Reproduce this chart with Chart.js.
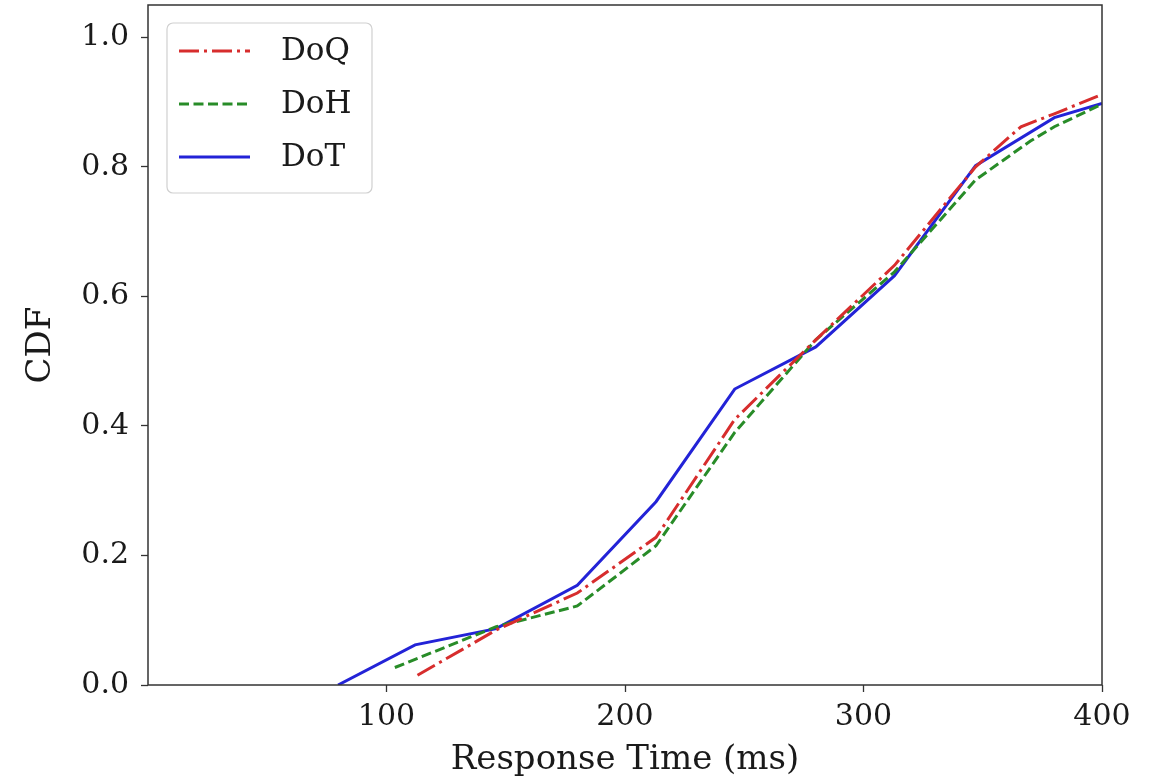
<!DOCTYPE html>
<html>
<head>
<meta charset="utf-8">
<script src="https://cdn.jsdelivr.net/npm/chart.js@4.4.1/dist/chart.umd.min.js"></script>
<style>
  html, body { margin: 0; padding: 0; background: #ffffff; }
  #wrap { width: 1160px; height: 783px; position: relative; }
</style>
</head>
<body>
<div id="wrap"><canvas id="c" width="1160" height="783"></canvas></div>
<script>
// ---- data ----
const seriesNames = ['DoQ', 'DoH', 'DoT'];

const doqX = [113, 146, 180, 213, 246, 280, 313, 347, 366, 380, 400];
const doqY = [0.015, 0.085, 0.142, 0.228, 0.41, 0.533, 0.648, 0.80, 0.862, 0.882, 0.912];

const dohX = [103.5, 146, 180, 213, 246, 280, 313, 347, 370, 380, 400];
const dohY = [0.027, 0.09, 0.122, 0.215, 0.39, 0.533, 0.638, 0.78, 0.84, 0.862, 0.897];

const dotX = [79.7, 112, 146, 180, 213, 246, 280, 313, 347, 380, 400];
const dotY = [0, 0.062, 0.087, 0.154, 0.283, 0.457, 0.522, 0.632, 0.802, 0.876, 0.898];

const xTicks = [100, 200, 300, 400];
const yTicks = [0.0, 0.2, 0.4, 0.6, 0.8, 1.0];

const xTitle = 'Response Time (ms)';
const yTitle = 'CDF';

// ---- helpers ----
function pts(xs, ys) { return xs.map((x, i) => ({ x: x, y: ys[i] })); }

const FONT = "'DejaVu Serif', serif";
const TXT = '#1a1a1a';
const AXIS = '#333333';

const frameAndLegend = {
  id: 'frameAndLegend',
  afterDatasetsDraw(chart) {
    const { ctx, chartArea: a } = chart;
    ctx.save();
    ctx.strokeStyle = AXIS;
    ctx.lineWidth = 1.5;
    ctx.strokeRect(a.left, a.top, a.right - a.left, a.bottom - a.top);

    const bx = 167, by = 23, bw = 205, bh = 170;
    ctx.beginPath();
    ctx.roundRect(bx, by, bw, bh, 6);
    ctx.fillStyle = 'rgba(255,255,255,0.85)';
    ctx.fill();
    ctx.strokeStyle = '#d0d0d0';
    ctx.lineWidth = 1.2;
    ctx.stroke();

    const rowY = [51, 104, 157];
    chart.data.datasets.forEach((ds, i) => {
      const y = rowY[i];
      ctx.beginPath();
      ctx.setLineDash(ds.borderDash || []);
      ctx.strokeStyle = ds.borderColor;
      ctx.lineWidth = ds.borderWidth;
      ctx.moveTo(179, y);
      ctx.lineTo(250, y);
      ctx.stroke();
      ctx.setLineDash([]);
      ctx.fillStyle = TXT;
      ctx.font = "31px " + FONT;
      ctx.textBaseline = 'middle';
      ctx.textAlign = 'left';
      ctx.fillText(ds.label, 281, y + 1);
    });
    ctx.restore();
  }
};

new Chart(document.getElementById('c'), {
  type: 'line',
  data: {
    datasets: [
      {
        label: seriesNames[0],
        data: pts(doqX, doqY),
        borderColor: 'rgb(215,45,45)',
        borderWidth: 3,
        borderDash: [20, 5, 3, 5],
        pointRadius: 0,
        tension: 0,
        fill: false
      },
      {
        label: seriesNames[1],
        data: pts(dohX, dohY),
        borderColor: 'rgb(40,140,40)',
        borderWidth: 3,
        borderDash: [10, 4.5],
        pointRadius: 0,
        tension: 0,
        fill: false
      },
      {
        label: seriesNames[2],
        data: pts(dotX, dotY),
        borderColor: 'rgb(35,35,215)',
        borderWidth: 3,
        borderDash: [],
        pointRadius: 0,
        tension: 0,
        fill: false
      }
    ]
  },
  options: {
    responsive: false,
    animation: false,
    events: [],
    layout: { padding: { left: 17, top: 5, right: 58, bottom: 0 } },
    plugins: {
      legend: { display: false },
      tooltip: { enabled: false }
    },
    scales: {
      x: {
        type: 'linear',
        min: 0,
        max: 400,
        afterBuildTicks(scale) { scale.ticks = xTicks.map(v => ({ value: v })); },
        afterFit(scale) { scale.height = 98; scale.paddingLeft = 0; scale.paddingRight = 0; },
        ticks: {
          color: TXT,
          font: { family: FONT, size: 30 },
          padding: 7,
          maxRotation: 0,
          autoSkip: false,
          callback: v => String(v)
        },
        grid: {
          display: true,
          drawOnChartArea: false,
          drawTicks: true,
          tickLength: 7,
          tickWidth: 1.3,
          tickColor: AXIS
        },
        border: { display: false },
        title: {
          display: true,
          text: xTitle,
          color: TXT,
          font: { family: FONT, size: 34 },
          padding: { top: 0, bottom: 2 }
        }
      },
      y: {
        type: 'linear',
        min: 0,
        max: 1.05,
        afterBuildTicks(scale) { scale.ticks = yTicks.map(v => ({ value: v })); },
        afterFit(scale) { scale.width = 148 - 17; scale.paddingTop = 0; scale.paddingBottom = 0; },
        ticks: {
          color: TXT,
          font: { family: FONT, size: 30 },
          padding: 12,
          autoSkip: false,
          callback: v => Number(v).toFixed(1)
        },
        grid: {
          display: true,
          drawOnChartArea: false,
          drawTicks: true,
          tickLength: 7,
          tickWidth: 1.3,
          tickColor: AXIS
        },
        border: { display: false },
        title: {
          display: true,
          text: yTitle,
          color: TXT,
          font: { family: FONT, size: 34 },
          padding: { top: 4, bottom: 4 }
        }
      }
    }
  },
  plugins: [frameAndLegend]
});
</script>
</body>
</html>
